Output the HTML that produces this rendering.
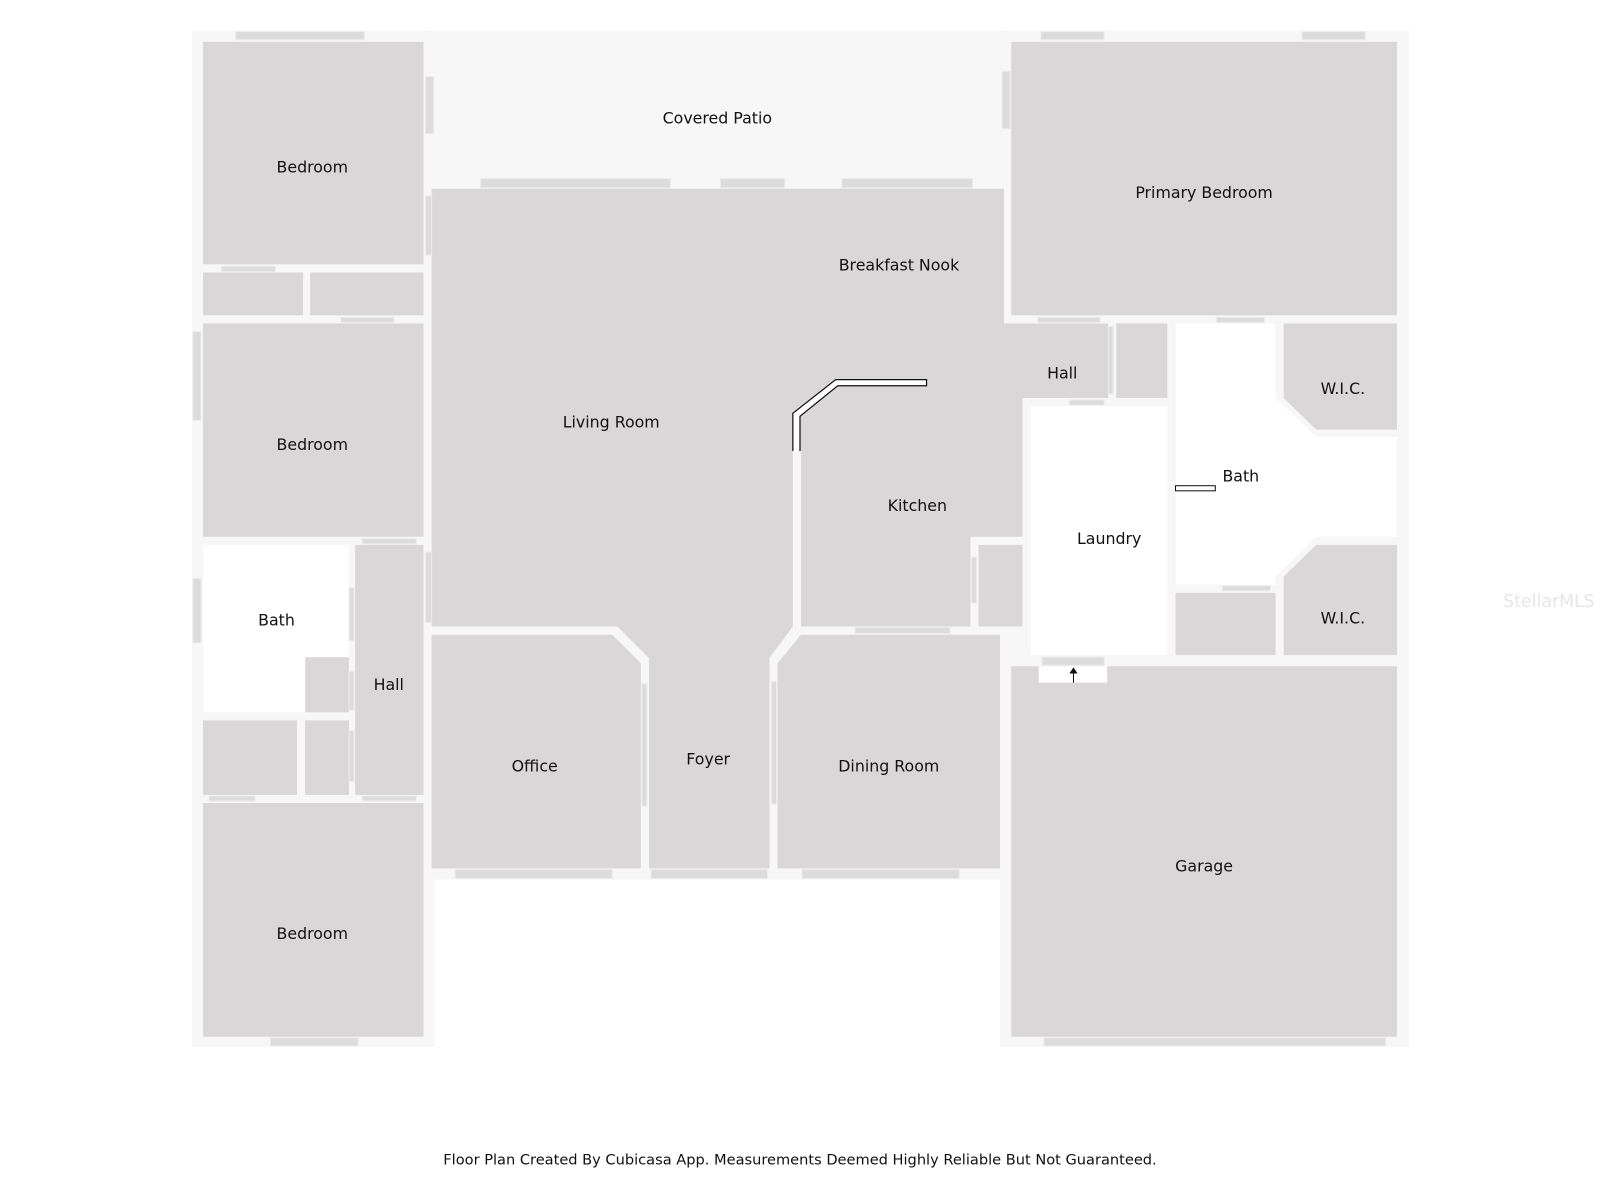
<!DOCTYPE html>
<html><head><meta charset="utf-8"><style>
html,body{margin:0;padding:0;background:#fff;}
svg{display:block;}
text{font-family:"DejaVu Sans","Liberation Sans",sans-serif;font-size:15.5px;fill:#111;text-anchor:middle;}
</style></head><body>
<svg width="1600" height="1200" viewBox="0 0 1568 1176" xmlns="http://www.w3.org/2000/svg">
<rect width="1568" height="1176" fill="#fff"/>
<g fill="#f7f7f7">
<rect x="188" y="30" width="238" height="996"/>
<rect x="415" y="30" width="575" height="832"/>
<rect x="980" y="30" width="401" height="996"/>
</g>
<g fill="#d9d7d8">
<rect x="199" y="41" width="216" height="218"/>
<rect x="199" y="267" width="98" height="42"/>
<rect x="304" y="267" width="111" height="42"/>
<rect x="199" y="317" width="216" height="209"/>
<rect x="299" y="644" width="43" height="54"/>
<rect x="348" y="534" width="67" height="245"/>
<rect x="199" y="706" width="92" height="73"/>
<rect x="299" y="706" width="43" height="73"/>
<rect x="199" y="787" width="216" height="229"/>
<polygon points="423,185 984,185 984,317 1086,317 1086,390 1002,390 1002,526 951,526 951,614 785,614 777,614 754,645 754,851 636,851 636,645 605,614 423,614"/>
<polygon points="423,622 600,622 628,650 628,851 423,851"/>
<polygon points="762,650 785,622 980,622 980,851 762,851"/>
<rect x="959" y="534" width="43" height="80"/>
<rect x="1094" y="317" width="50" height="73"/>
<rect x="991" y="41" width="378" height="268"/>
<polygon points="1258,317 1369,317 1369,421 1290,421 1258,390"/>
<polygon points="1290,534 1369,534 1369,642 1258,642 1258,565"/>
<rect x="1152" y="581" width="98" height="61"/>
<rect x="991" y="653" width="378" height="363"/>
</g>
<g fill="#fff">
<rect x="199" y="534" width="143" height="110"/>
<rect x="199" y="644" width="100" height="54"/>
<rect x="1010" y="398" width="134" height="244"/>
<polygon points="1152,317 1250,317 1250,390 1290,428 1369,428 1369,526 1290,526 1250,565 1250,573 1152,573"/>
</g>
<rect x="777" y="442" width="8" height="172" fill="#f7f7f7"/>
<g fill="#dcdcdc" stroke="#ececec" stroke-width="1">
<rect x="231" y="31" width="126" height="8"/>
<rect x="417" y="75" width="8" height="56"/>
<rect x="417" y="192" width="6" height="58"/>
<rect x="217" y="261" width="53" height="5"/>
<rect x="334" y="311" width="52" height="5"/>
<rect x="189" y="325" width="8" height="87"/>
<rect x="355" y="528" width="53" height="5"/>
<rect x="189" y="567" width="8" height="63"/>
<rect x="417" y="541" width="6" height="69"/>
<rect x="342" y="576" width="5" height="52"/>
<rect x="342" y="658" width="5" height="38"/>
<rect x="342" y="716" width="5" height="50"/>
<rect x="205" y="780" width="45" height="5"/>
<rect x="355" y="780" width="53" height="5"/>
<rect x="265" y="1017" width="86" height="8"/>
<rect x="471" y="175" width="186" height="9"/>
<rect x="706" y="175" width="63" height="9"/>
<rect x="825" y="175" width="128" height="9"/>
<rect x="1020" y="31" width="62" height="8"/>
<rect x="1276" y="31" width="62" height="8"/>
<rect x="982" y="70" width="8" height="56"/>
<rect x="1017" y="311" width="61" height="5"/>
<rect x="1192" y="311" width="47" height="5"/>
<rect x="1048" y="392" width="34" height="5"/>
<rect x="1086" y="320" width="5" height="66"/>
<rect x="952" y="546" width="5" height="45"/>
<rect x="838" y="615" width="93" height="6"/>
<rect x="1198" y="574" width="47" height="5"/>
<rect x="1021" y="644" width="61" height="8"/>
<rect x="446" y="852" width="154" height="9"/>
<rect x="638" y="852" width="114" height="9"/>
<rect x="786" y="852" width="154" height="9"/>
<rect x="1023" y="1017" width="335" height="8"/>
<rect x="629" y="670" width="5" height="120"/>
<rect x="756" y="668" width="5" height="120"/>
</g>
<path d="M777,442 L777,405 L819,372 L908,372 L908,378 L821,378 L784,408 L784,442" fill="#fff" stroke="#111" stroke-width="1.2"/>
<rect x="1152" y="476" width="39" height="5" fill="#fff" stroke="#111" stroke-width="1"/>
<rect x="1018" y="653" width="67" height="16" fill="#fff"/>
<line x1="1052" y1="669" x2="1052" y2="659" stroke="#111" stroke-width="1"/>
<polygon points="1048,660 1056,660 1052,654" fill="#111"/>
<text x="703" y="121">Covered Patio</text>
<text x="306" y="169">Bedroom</text>
<text x="1180" y="194">Primary Bedroom</text>
<text x="881" y="265">Breakfast Nook</text>
<text x="1041" y="371">Hall</text>
<text x="1316" y="386">W.I.C.</text>
<text x="599" y="419">Living Room</text>
<text x="306" y="441">Bedroom</text>
<text x="1216" y="472">Bath</text>
<text x="899" y="501">Kitchen</text>
<text x="1087" y="533">Laundry</text>
<text x="271" y="613">Bath</text>
<text x="1316" y="611">W.I.C.</text>
<text x="381" y="676">Hall</text>
<text x="694" y="749">Foyer</text>
<text x="524" y="756">Office</text>
<text x="871" y="756">Dining Room</text>
<text x="1180" y="854">Garage</text>
<text x="306" y="920">Bedroom</text>
<text x="784" y="1141" style="font-size:14.3px">Floor Plan Created By Cubicasa App. Measurements Deemed Highly Reliable But Not Guaranteed.</text>
<text x="1518" y="595" style="font-size:17px;fill:#e6e6e6">StellarMLS</text>
</svg>
</body></html>
